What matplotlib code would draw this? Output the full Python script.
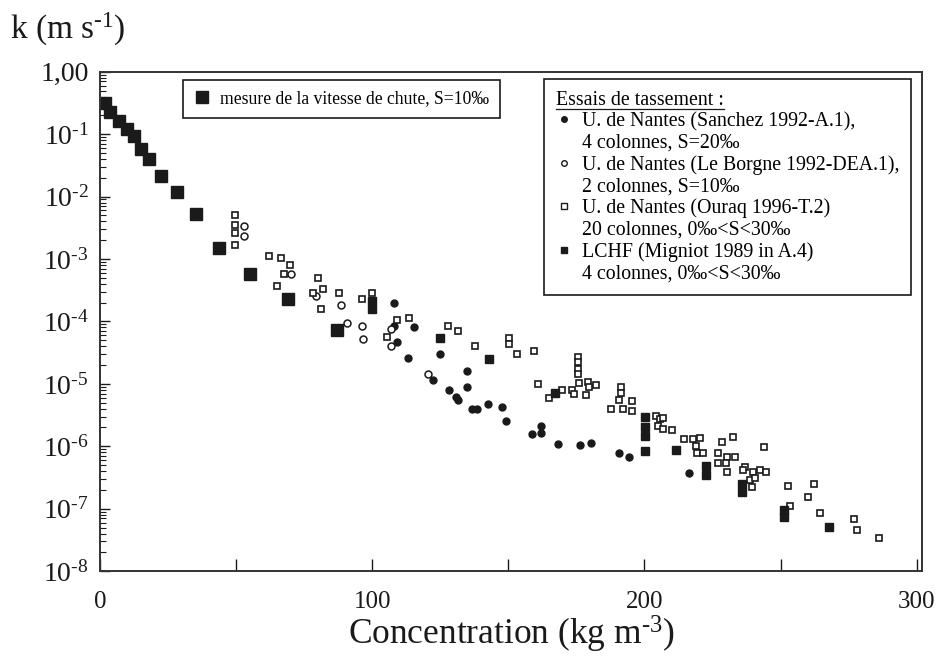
import matplotlib
matplotlib.use('Agg')
import matplotlib.pyplot as plt
from matplotlib.lines import Line2D
from matplotlib.ticker import LogLocator, NullFormatter

plt.rcParams['font.family'] = ['Liberation Serif', 'DejaVu Serif']
plt.rcParams['mathtext.fontset'] = 'custom'
plt.rcParams['mathtext.rm'] = 'Liberation Serif'
plt.rcParams['mathtext.it'] = 'Liberation Serif:italic'

# mesure de la vitesse de chute (S=10 permil)
chute_c = [1.8, 3.7, 7.0, 9.9, 12.5, 15.1, 18.0, 22.5, 28.3, 35.3, 43.8, 55.2, 69.2, 87.2]
chute_k = [3.1e-1, 2.3e-1, 1.6e-1, 1.2e-1, 9.4e-2, 5.8e-2, 4.0e-2, 2.1e-2, 1.2e-2,
           5.2e-3, 1.5e-3, 5.7e-4, 2.3e-4, 7.2e-5]

# U. de Nantes, Sanchez 1992
sanchez_c = [108.2, 108.2, 109.3, 115.2, 113.0, 124.8, 122.2, 134.7, 134.7, 128.4, 130.7,
             131.4, 136.5, 138.4, 142.4, 147.6, 149.1, 158.6, 161.9, 161.9, 168.2, 176.3,
             180.3, 190.7, 194.3, 216.4]
sanchez_k = [2.0e-4, 8.6e-5, 4.6e-5, 8.0e-5, 2.6e-5, 3.0e-5, 1.17e-5, 1.63e-5, 9.0e-6,
             8.1e-6, 6.2e-6, 5.6e-6, 3.9e-6, 3.9e-6, 4.8e-6, 4.3e-6, 2.5e-6, 1.6e-6,
             2.1e-6, 1.65e-6, 1.1e-6, 1.06e-6, 1.14e-6, 7.9e-7, 6.8e-7, 3.8e-7]

# U. de Nantes, Le Borgne 1992
borgne_c = [53.0, 53.0, 70.3, 79.5, 88.7, 90.9, 96.4, 96.8, 107.1, 107.1, 120.4]
borgne_k = [3.4e-3, 2.3e-3, 5.7e-4, 2.6e-4, 1.8e-4, 9.3e-5, 8.3e-5, 5.3e-5, 7.7e-5,
            4.1e-5, 1.46e-5]

# U. de Nantes, Ouraq 1996
ouraq_c = [49.7, 49.7, 49.7, 49.7, 62.2, 66.6, 69.9, 67.7, 65.1, 80.2, 82.1, 78.4, 81.3,
           88.0, 96.1, 100.1, 105.3, 109.3, 113.4, 127.7, 131.4, 137.7, 150.2, 150.2,
           153.1, 159.4, 160.8, 164.9, 175.6, 175.6, 175.6, 175.6, 169.7, 173.4, 174.1,
           175.9, 178.5, 179.2, 179.6, 182.2, 191.4, 191.4, 190.7, 187.7, 192.1, 195.4,
           195.4, 204.3, 205.7, 206.8, 205.0, 206.8, 210.2, 214.6, 217.9, 219.0, 219.4,
           220.5, 221.6, 228.6, 232.6, 227.1, 230.4, 233.3, 227.1, 230.0, 230.4, 244.0,
           237.0, 236.3, 240.0, 242.5, 244.8, 238.9, 240.7, 239.6, 252.8, 253.6, 262.4,
           260.2, 264.3, 276.8, 278.2, 286.0]
ouraq_k = [5.0e-3, 3.5e-3, 2.6e-3, 1.66e-3, 1.11e-3, 1.03e-3, 7.9e-4, 5.7e-4, 3.65e-4,
           4.9e-4, 3.3e-4, 2.9e-4, 1.56e-4, 2.9e-4, 2.3e-4, 2.9e-4, 5.7e-5, 1.04e-4,
           1.12e-4, 8.3e-5, 6.9e-5, 4.0e-5, 5.5e-5, 4.3e-5, 3.0e-5, 3.4e-5, 1.01e-5,
           6.0e-6, 2.7e-5, 2.2e-5, 1.76e-5, 1.46e-5, 8.1e-6, 8.1e-6, 7.0e-6, 1.05e-5,
           6.7e-6, 1.09e-5, 9.0e-6, 9.7e-6, 9.0e-6, 7.2e-6, 5.6e-6, 4.0e-6, 4.0e-6,
           5.4e-6, 3.7e-6, 3.1e-6, 2.7e-6, 2.8e-6, 2.1e-6, 1.9e-6, 1.8e-6, 1.3e-6,
           1.3e-6, 1.0e-6, 7.9e-7, 1.37e-6, 7.9e-7, 1.18e-6, 1.42e-6, 7.9e-7, 6.8e-7,
           6.8e-7, 5.4e-7, 5.4e-7, 3.9e-7, 9.8e-7, 4.7e-7, 4.2e-7, 3.9e-7, 4.2e-7,
           3.9e-7, 2.9e-7, 3.1e-7, 2.2e-7, 2.3e-7, 1.11e-7, 2.5e-7, 1.55e-7, 8.6e-8,
           6.8e-8, 4.6e-8, 3.4e-8]

# LCHF, Migniot 1989
lchf_c = [100.1, 100.1, 124.8, 142.8, 167.1, 200.2, 200.2, 200.2, 200.2, 211.6, 222.7,
          222.7, 235.9, 235.9, 251.4, 251.4, 267.6]
lchf_k = [2.1e-4, 1.56e-4, 5.5e-5, 2.5e-5, 7.2e-6, 3.0e-6, 2.0e-6, 1.47e-6, 8.5e-7,
          8.8e-7, 4.9e-7, 3.5e-7, 2.5e-7, 1.86e-7, 9.5e-8, 7.4e-8, 5.1e-8]

ytick_vals = [1, 1e-1, 1e-2, 1e-3, 1e-4, 1e-5, 1e-6, 1e-7, 1e-8]
ytick_labels = ['1,00'] + [r'$\mathregular{10^{\text{-}%d}}$' % i for i in range(1, 9)]
xtick_vals = [0, 100, 200, 300]

ink = '#1a1a1a'

fig = plt.figure(figsize=(9.42, 6.58), dpi=100)
ax = fig.add_axes([0.106, 0.132, 0.873, 0.759])

ax.plot(chute_c, chute_k, 's', color=ink, markersize=8.3, ls='none')
ax.plot(sanchez_c, sanchez_k, 'o', color=ink, markersize=5, ls='none')
ax.plot(borgne_c, borgne_k, 'o', mfc='white', mec=ink, mew=1.1, markersize=5, ls='none')
ax.plot(ouraq_c, ouraq_k, 's', mfc='white', mec=ink, mew=1.2, markersize=5, ls='none')
ax.plot(lchf_c, lchf_k, 's', color=ink, markersize=5.5, ls='none')

ax.set_yscale('log')
ax.set_ylim(1e-8, 1)
ax.set_xlim(0, 302)
ax.set_yticks(ytick_vals)
ax.set_yticklabels(ytick_labels)
ax.yaxis.set_minor_locator(LogLocator(base=10, subs=range(2, 10), numticks=20))
ax.yaxis.set_minor_formatter(NullFormatter())
ax.set_xticks(xtick_vals)
ax.set_xticks([50, 150, 250], minor=True)

ax.tick_params(axis='y', which='major', direction='in', length=7, width=1, labelsize=20,
               pad=8, colors=ink)
ax.tick_params(axis='y', which='minor', direction='in', length=4, width=0.8, colors=ink)
ax.tick_params(axis='x', which='both', direction='in', length=9, width=1, labelsize=18,
               pad=14, colors=ink)

for sp in ax.spines.values():
    sp.set_linewidth(1.4)
    sp.set_color('#333333')

ax.set_xlabel(r'Concentration (kg m$^{\mathregular{\text{-}3}}$)', fontsize=25.5, color=ink,
              labelpad=1)
fig.text(0.011, 0.955, r'k (m s$^{\mathregular{\text{-}1}}$)', fontsize=24, color=ink,
         ha='left', va='center')

# legend for the falling velocity measure
h1 = [Line2D([], [], marker='s', ls='none', color=ink, markersize=8)]
leg1 = ax.legend(h1, ['mesure de la vitesse de chute, S=10‰'], loc='upper left',
                 bbox_to_anchor=(0.101, 0.984), fontsize=12.7, frameon=True,
                 fancybox=False, edgecolor=ink, framealpha=1, handlelength=1.0,
                 handletextpad=0.5, borderpad=0.6, borderaxespad=0)
leg1.get_frame().set_linewidth(1.2)
ax.add_artist(leg1)

# legend for the settling tests: one row per text line, marker on the first line
blank = Line2D([], [], ls='none')
h2 = [Line2D([], [], marker='o', ls='none', color=ink, markersize=4), blank,
      Line2D([], [], marker='o', ls='none', mfc='white', mec=ink, markersize=4), blank,
      Line2D([], [], marker='s', ls='none', mfc='white', mec=ink, markersize=4), blank,
      Line2D([], [], marker='s', ls='none', color=ink, markersize=4), blank]
l2 = ['U. de Nantes (Sanchez 1992-A.1),', '4 colonnes, S=20‰',
      'U. de Nantes (Le Borgne 1992-DEA.1),', '2 colonnes, S=10‰',
      'U. de Nantes (Ouraq 1996-T.2)', '20 colonnes, 0‰<S<30‰',
      'LCHF (Migniot 1989 in A.4)', '4 colonnes, 0‰<S<30‰']
leg2 = ax.legend(h2, l2, loc='upper left', bbox_to_anchor=(0.540, 0.986), fontsize=14.3,
                 title='Essais de tassement :', title_fontsize=14.3, alignment='left',
                 frameon=True, fancybox=False, edgecolor=ink, framealpha=1,
                 handlelength=0.8, handletextpad=0.5, labelspacing=0.12,
                 borderpad=0.6, borderaxespad=0)
leg2.get_frame().set_linewidth(1.2)

# underline the legend title
fig.canvas.draw()
tb = leg2.get_title().get_window_extent()
inv = fig.transFigure.inverted()
(x0, y0), (x1, _) = inv.transform([(tb.x0, tb.y0 + 1), (tb.x1, tb.y0 + 1)])
fig.add_artist(Line2D([x0, x1], [y0, y0], color=ink, lw=0.9))

fig.savefig('out.png', dpi=100)
